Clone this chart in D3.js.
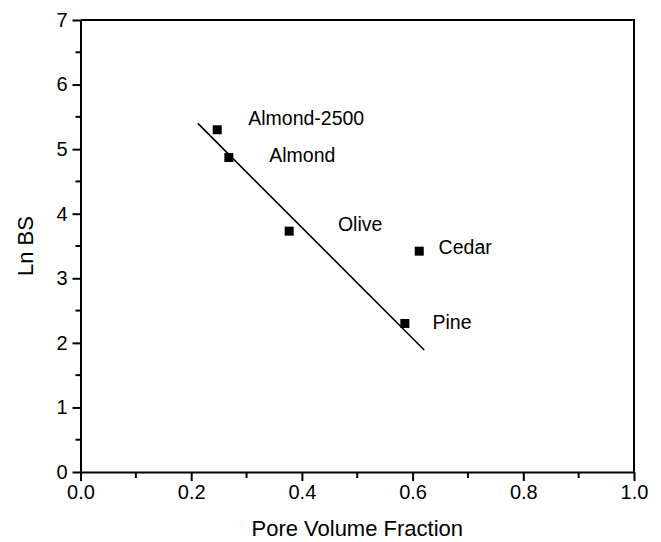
<!DOCTYPE html>
<html>
<head>
<meta charset="utf-8">
<script src="https://cdn.jsdelivr.net/npm/d3@7"></script>
<style>
  html, body { margin: 0; padding: 0; background: #fff; }
  svg { display: block; font-family: "Liberation Sans", Arial, sans-serif; }
</style>
</head>
<body>
<svg id="chart" width="661" height="542"></svg>
<script>
// Data
const sampleNames = ["Almond-2500", "Almond", "Olive", "Cedar", "Pine"];
const poreVolumeFraction = [0.247, 0.268, 0.377, 0.612, 0.586];
const lnBS = [5.30, 4.87, 3.73, 3.42, 2.30];
// Label offsets (in data units) relative to each point
const labelDx = [0.056, 0.073, 0.088, 0.035, 0.05];
const labelDy = [0.08, -0.07, 0.0, -0.04, -0.08];
// Fitted line end points
const fitX = [0.212, 0.621];
const fitY = [5.40, 1.89];
// Axis ticks
const xTicks = [0.0, 0.2, 0.4, 0.6, 0.8, 1.0];
const xMinorTicks = [0.1, 0.3, 0.5, 0.7, 0.9];
const yTicks = [0, 1, 2, 3, 4, 5, 6, 7];
const yMinorTicks = [0.5, 1.5, 2.5, 3.5, 4.5, 5.5, 6.5];

(function () {
const svg = d3.select("#chart");
const mLeft = 80.5, mRight = 634, mTop = 20, mBottom = 472;

const x = d3.scaleLinear().domain([0, 1]).range([mLeft, mRight]);
const y = d3.scaleLinear().domain([0, 7]).range([mBottom, mTop]);

// Frame (top and right)
svg.append("path")
  .attr("d", `M${mLeft},${mTop}H${mRight}V${mBottom}`)
  .attr("fill", "none").attr("stroke", "#000").attr("stroke-width", 2);

// X axis
const xAxis = svg.append("g").attr("transform", `translate(0,${mBottom})`)
  .call(d3.axisBottom(x).tickValues(xTicks).tickFormat(d3.format(".1f")).tickSize(9).tickSizeOuter(0).tickPadding(4));
xAxis.append("g").selectAll("line").data(xMinorTicks).join("line")
  .attr("x1", d => x(d)).attr("x2", d => x(d)).attr("y1", 0).attr("y2", 6)
  .attr("stroke", "#000").attr("stroke-width", 2);

// Y axis
const yAxis = svg.append("g").attr("transform", `translate(${mLeft},0)`)
  .call(d3.axisLeft(y).tickValues(yTicks).tickFormat(d3.format("d")).tickSize(8).tickSizeOuter(0).tickPadding(5));
yAxis.append("g").selectAll("line").data(yMinorTicks).join("line")
  .attr("y1", d => y(d)).attr("y2", d => y(d)).attr("x1", 0).attr("x2", -5)
  .attr("stroke", "#000").attr("stroke-width", 2);

svg.selectAll(".domain").attr("stroke", "#000").attr("stroke-width", 2);
svg.selectAll(".tick line").attr("stroke", "#000").attr("stroke-width", 2);
svg.selectAll(".tick text").attr("font-size", 20).attr("fill", "#000")
  .attr("font-family", "'Liberation Sans', Arial, sans-serif");

// Axis titles
svg.append("text").attr("x", (mLeft + mRight) / 2).attr("y", 536)
  .attr("text-anchor", "middle").attr("font-size", 22).text("Pore Volume Fraction");
svg.append("text").attr("transform", `translate(33,${(mTop + mBottom) / 2}) rotate(-90)`)
  .attr("text-anchor", "middle").attr("font-size", 22).text("Ln BS");

// Fit line
svg.append("line")
  .attr("x1", x(fitX[0])).attr("y1", y(fitY[0]))
  .attr("x2", x(fitX[1])).attr("y2", y(fitY[1]))
  .attr("stroke", "#000").attr("stroke-width", 1.6);

// Points
const pts = sampleNames.map((n, i) => ({ n, x: poreVolumeFraction[i], y: lnBS[i], dx: labelDx[i], dy: labelDy[i] }));
svg.append("g").selectAll("rect").data(pts).join("rect")
  .attr("x", d => x(d.x) - 4.5).attr("y", d => y(d.y) - 4.5)
  .attr("width", 9).attr("height", 9).attr("fill", "#000");

// Labels
svg.append("g").selectAll("text").data(pts).join("text")
  .attr("x", d => x(d.x + d.dx)).attr("y", d => y(d.y + d.dy))
  .attr("font-size", 19.5).attr("fill", "#000").text(d => d.n);
})();
</script>
</body>
</html>
